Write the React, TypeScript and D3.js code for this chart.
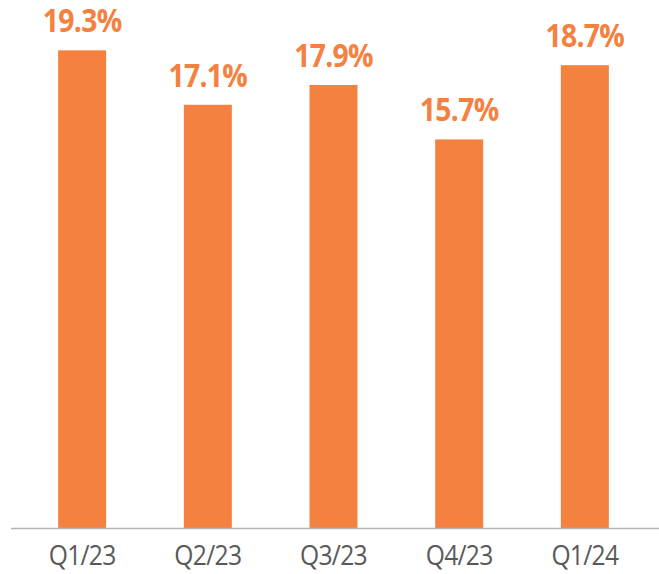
import React from "react";
import * as d3 from "d3";

const categories = ["Q1/23", "Q2/23", "Q3/23", "Q4/23", "Q1/24"];
const values = [19.3, 17.1, 17.9, 15.7, 18.7];
const valueLabels = ["19.3%", "17.1%", "17.9%", "15.7%", "18.7%"];

const W = 659;
const H = 574;
const ORANGE = "#F58140";

export default function App() {
  const x = d3.scaleBand<string>().domain(categories).range([19, 648]).paddingInner(0.615).paddingOuter(0.31);
  const y = d3.scaleLinear().domain([0, 20]).range([528, 33]);
  const bw = 48;
  return (
    <svg width={W} height={H} style={{ position: "absolute", left: 0, top: 0, display: "block" }}>
      <rect width={W} height={H} fill="#fff" />
      {categories.map((c, i) => {
        const cx = (x(c) as number) + x.bandwidth() / 2;
        return (
          <g key={c}>
            <rect x={cx - bw / 2} y={y(values[i])} width={bw} height={y(0) - y(values[i])} fill={ORANGE} />
            <text
              transform={`translate(${cx},${y(values[i]) - 18}) scale(0.9,1)`}
              textAnchor="middle"
              fontFamily="'Open Sans', sans-serif"
              fontWeight={700}
              fontSize={31.5}
              letterSpacing={-0.8}
              fill={ORANGE}
            >
              {valueLabels[i]}
            </text>
            <text
              transform={`translate(${cx},565) scale(0.88,1)`}
              textAnchor="middle"
              fontFamily="'Open Sans', sans-serif"
              fontSize={28}
              letterSpacing={-0.8}
              fill="#595959"
            >
              {c}
            </text>
          </g>
        );
      })}
      <line x1={11} x2={W} y1={528.5} y2={528.5} stroke="#B4B4B4" strokeWidth={1.5} />
    </svg>
  );
}
